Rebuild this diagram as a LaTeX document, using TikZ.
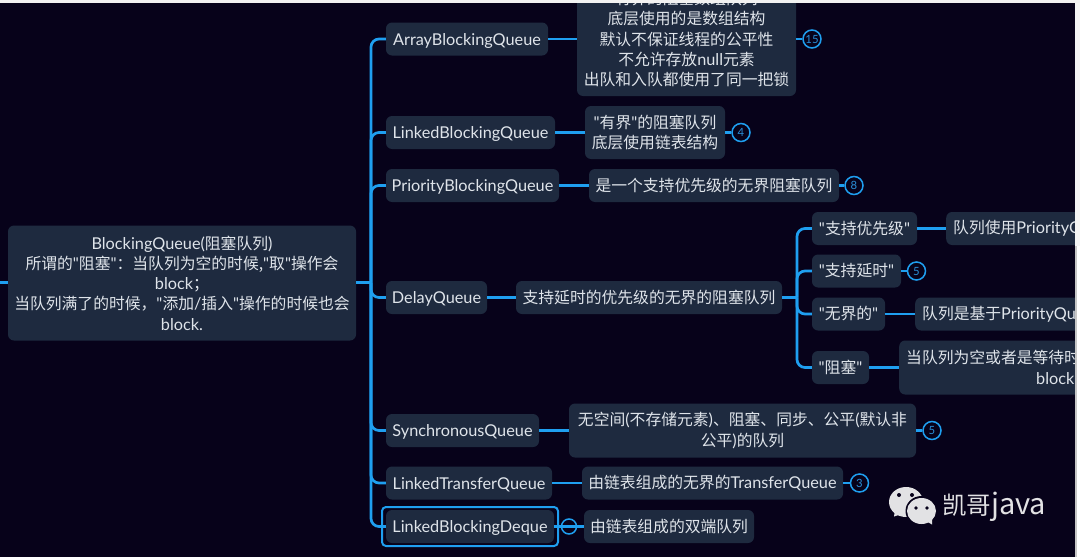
\documentclass[tikz,border=0pt]{standalone}
\usepackage{fontspec}
\newfontfamily\lat[Scale=1.03]{Lato}
\newfontfamily\cjk{Noto Sans CJK SC}
\newcommand{\zh}[1]{{\cjk #1}}
\definecolor{bgc}{HTML}{07021A}
\definecolor{boxc}{HTML}{1E2A3F}
\definecolor{linec}{HTML}{1F9FF0}
\definecolor{txtc}{HTML}{DFE4EA}
\definecolor{markc}{HTML}{2A8FD8}
\definecolor{logoc}{HTML}{E2E2E4}
\tikzset{
  x=1pt,y=-1pt,
  box/.style={fill=boxc,rounded corners=6pt,text=txtc,inner sep=0pt,minimum height=33pt,align=center,
    font=\lat\fontsize{15.8}{20.3}\selectfont},
  namebox/.style={box,text height=13pt,text depth=1pt},
  conn/.style={draw=linec,line width=2.7pt},
  curve/.style={conn,rounded corners=8pt},
  badge/.style={circle,draw=linec,line width=1.5pt,fill=bgc,text=markc,inner sep=0pt,minimum size=18pt,
    font=\lat\fontsize{11}{13}\selectfont},
}
\begin{document}
\begin{tikzpicture}
\useasboundingbox (0,0) rectangle (1080,557);
\fill[bgc] (0,0) rectangle (1080,557);

% root
\node[box,minimum width=348pt,minimum height=115pt] (root) at (182,283)
 {BlockingQueue(\zh{阻塞队列})\\
  \zh{所谓的}"\zh{阻塞}"\zh{：当队列为空的时候,}"\zh{取}"\zh{操作会}\\
  block\zh{；}\\
  \zh{当队列满了的时候，}"\zh{添加}/\zh{插入}"\zh{操作的时候也会}\\
  block.};
\coordinate (lead) at (0,282.5);
\coordinate (hub) at (371,282.5);

% first level
\node[namebox,minimum width=162pt] (array) at (467,39) {ArrayBlockingQueue};
\node[namebox,minimum width=169pt] (linked) at (470.5,132.5) {LinkedBlockingQueue};
\node[namebox,minimum width=173pt] (prio) at (472.5,185.5) {PriorityBlockingQueue};
\node[namebox,minimum width=101pt] (delay) at (436.5,297.5) {DelayQueue};
\node[namebox,minimum width=153pt] (sync) at (462.5,430.5) {SynchronousQueue};
\node[namebox,minimum width=166pt] (transfer) at (469,483) {LinkedTransferQueue};
\node[namebox,minimum width=168pt] (deque) at (470,526.5) {LinkedBlockingDeque};
\node[draw=linec,line width=2pt,rounded corners=4pt,minimum width=176pt,minimum height=39pt,inner sep=0pt] (sel) at (470,526.5) {};

% details
\node[box,minimum width=219pt,minimum height=114pt] (arrayd) at (686.5,39)
 {\zh{有界的阻塞数组队列}\\\zh{底层使用的是数组结构}\\\zh{默认不保证线程的公平性}\\\zh{不允许存放}null\zh{元素}\\\zh{出队和入队都使用了同一把锁}};
\node[box,minimum width=140pt,minimum height=53pt] (linkedd) at (655,132.5)
 {"\zh{有界}"\zh{的阻塞队列}\\\zh{底层使用链表结构}};
\node[box,minimum width=250pt] (priod) at (714,185.5) {\zh{是一个支持优先级的无界阻塞队列}};
\node[box,minimum width=266pt] (delayd) at (649,297.5) {\zh{支持延时的优先级的无界的阻塞队列}};
\node[box,minimum width=347pt,minimum height=54pt] (syncd) at (742.5,430.5)
 {\zh{无空间}(\zh{不存储元素})\zh{、阻塞、同步、公平}(\zh{默认非}\\\zh{公平})\zh{的队列}};
\node[box,minimum width=261pt] (transferd) at (712.5,483) {\zh{由链表组成的无界的}TransferQueue};
\node[box,minimum width=170pt] (dequed) at (669,526.5) {\zh{由链表组成的双端队列}};

% delay children
\coordinate (subhub) at (797,297.5);
\node[box,minimum width=105pt] (c1) at (864.5,228.5) {"\zh{支持优先级}"};
\node[box,minimum width=89pt] (c2) at (856.5,271) {"\zh{支持延时}"};
\node[box,minimum width=73pt] (c3) at (848.5,314) {"\zh{无界的}"};
\node[box,minimum width=57pt] (c4) at (840.5,367.5) {"\zh{阻塞}"};
\node[box,anchor=west,minimum width=220pt,text width=206pt,align=left] (c1d) at (946,228.5) {\zh{队列使用}PriorityQueue};
\node[box,anchor=west,minimum width=220pt,text width=206pt,align=left] (c3d) at (915,314) {\zh{队列是基于}PriorityQueue};
\node[box,anchor=west,minimum width=220pt,minimum height=54pt,text width=206pt,align=left] (c4d) at (899,367.5)
 {\zh{当队列为空或者是等待时}\\\hspace*{130pt}block};

% badges
\node[badge] (b1) at (812,39) {15};
\node[badge] (b2) at (741,132.5) {4};
\node[badge] (b3) at (854,185.5) {8};
\node[badge] (b4) at (916.5,271) {5};
\node[badge] (b5) at (932,430.5) {5};
\node[badge] (b6) at (859.5,483) {3};
\node[circle,draw=linec,line width=1.5pt,inner sep=0pt,minimum size=15pt] (fold) at (569,526.5) {};

% connectors
\draw[conn] (lead) -- (root.west |- lead);
\draw[conn] (root.east |- hub) -- (hub);
\foreach \n in {array,linked,prio,delay,sync,transfer,deque}
  \draw[curve] (hub) |- (\n.west);
\draw[conn] (array) -- (arrayd);
\draw[conn] (linked) -- (linkedd);
\draw[conn] (prio) -- (priod);
\draw[conn] (delay) -- (delayd);
\draw[conn] (sync) -- (syncd);
\draw[conn] (transfer) -- (transferd);
\draw[conn] (deque.east) -- (dequed.west);
\draw[conn] (delayd.east) -- (subhub);
\foreach \n in {c1,c2,c3,c4}
  \draw[curve] (subhub) |- (\n.west);
\draw[conn] (c1) -- (c1d);
\draw[conn] (c3) -- (c3d);
\draw[conn] (c4.east) -- (c4d.west);
\draw[conn] (arrayd) -- (b1);
\draw[conn] (linkedd) -- (b2);
\draw[conn] (priod) -- (b3);
\draw[conn] (c2) -- (b4);
\draw[conn] (syncd) -- (b5);
\draw[conn] (transferd) -- (b6);

% WeChat mark
\fill[logoc] (906,502) ellipse (17 and 15);
\fill[logoc] (895,510) -- (894,516.5) -- (902,514) -- cycle;
\fill[bgc] (921.5,511) ellipse (16 and 15);
\fill[logoc] (921.5,511) ellipse (14.5 and 13);
\fill[logoc] (926,521) -- (932,524.5) -- (932,515) -- cycle;
\fill[bgc] (899,495) circle (2) (912,495) circle (2) (916,508) circle (1.8) (927,508) circle (1.8);
\node[text=logoc,anchor=west,inner sep=0pt,font=\cjk\fontsize{24.5}{28}\selectfont] (brand) at (942,507) {凯哥{\fontsize{29}{28}\selectfont java}};

% window edges
\fill[white!95!black] (0,0) rectangle (1080,3);
\fill[white!96!black] (1075,3) rectangle (1080,246);
\fill[white] (1075,246) rectangle (1080,557);
\fill[black!22] (1075,246) rectangle (1077,557);
\end{tikzpicture}
\end{document}
